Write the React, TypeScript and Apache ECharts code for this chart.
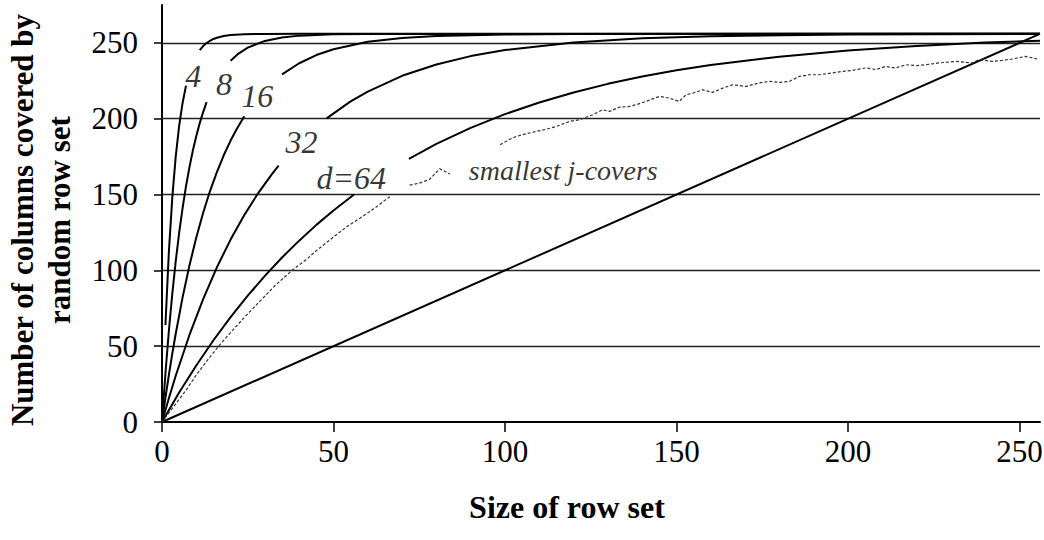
import React, { useEffect, useRef } from "react";
import * as echarts from "echarts";

// Axis ticks / grid
const xTickValues = [0, 50, 100, 150, 200, 250];
const yTickValues = [0, 50, 100, 150, 200, 250];
const gridValues = [50, 100, 150, 200, 250];

// d = 4 (null = gap where the label sits)
const d4X = [1, 2, 3, 4, 5, 6, 7, 9, 11, 12, 13, 14, 15, 16, 18, 20, 24, 30, 40, 256];
const d4Y = [64, 112, 148, 175, 195.3, 210.4, 221.8, null, 245.2, 247.9, 249.9, 251.4, 252.6, 253.4, 254.6, 255.2, 255.7, 255.9, 256, 256];

// d = 8
const d8X = [0, 1, 2, 3, 4, 5, 6, 7, 8, 9, 10, 11, 12, 13, 16, 20, 22, 25, 30, 35, 40, 50, 60, 256];
const d8Y = [0, 32, 60, 84.5, 105.9, 124.7, 141.1, 155.5, 168, 179, 188.6, 197.1, 204.4, 210.9, null, 238.3, 242.4, 246.9, 251.3, 253.6, 254.8, 255.7, 255.9, 256];

// d = 16
const d16X = [0, 1, 2, 3, 4, 6, 8, 10, 12, 14, 16, 18, 20, 22, 24, 30, 35, 40, 45, 50, 60, 70, 80, 100, 120, 256];
const d16Y = [0, 16, 31, 45.1, 58.2, 82.2, 103.2, 121.7, 138, 152.3, 164.8, 175.9, 185.6, 194.1, 201.6, null, 229.3, 236.6, 242, 245.8, 250.7, 253.2, 254.5, 255.6, 255.9, 256];

// d = 32
const d32X = [0, 2, 4, 8, 12, 16, 20, 24, 28, 32, 34, 40, 48, 55, 60, 70, 80, 90, 100, 120, 140, 160, 200, 256];
const d32Y = [0, 15.7, 30.5, 57.4, 81.1, 102, 120.3, 136.5, 150.8, 163.3, 169, null, 200.2, 211.4, 217.9, 228.3, 235.8, 241.3, 245.3, 250.3, 253, 254.4, 255.6, 255.9];

// d = 64
const d64X = [0, 5, 10, 15, 20, 25, 30, 35, 40, 45, 50, 56, 64, 72, 80, 90, 100, 110, 120, 130, 140, 150, 160, 180, 200, 220, 240, 256];
const d64Y = [0, 19.4, 37.3, 53.9, 69.2, 83.3, 96.4, 108.5, 119.6, 130, 139.5, 150, null, 173.6, 183.4, 194, 203, 210.7, 217.3, 223, 227.8, 231.9, 235.4, 240.9, 245, 248, 250.2, 251.5];

// diagonal
const diagX = [0, 256];
const diagY = [0, 256];

// smallest j-covers (measured, noisy)
const jcX = [0, 2, 4, 7, 10, 13, 16.5, 20, 24, 28.7, 33, 37.9, 42, 45, 50, 54, 57.7, 62, 66.4, 69, 72.2, 75, 78, 81, 83.9, 91, 98.6, 101, 103.3, 106, 109.1, 112, 115, 118.8, 121.7, 125.6, 128.5, 130.5, 133.4, 136, 138.2, 141.1, 145, 147.9, 150.8, 152.8, 155, 157.6, 160.5, 163.5, 166.4, 170.3, 174.1, 177.1, 180, 182.9, 185.8, 188.7, 191.6, 195.5, 198.4, 201.3, 205.2, 208.1, 211, 213.9, 216.9, 220, 222.7, 226.6, 231.4, 236.3, 238.2, 242.1, 245, 247.9, 251.8, 255.2];
const jcY = [0, 6, 12, 21, 31, 40, 50, 59, 69, 80, 90, 100, 107, 113, 122, 129, 134.4, 141, 148.6, null, 156.2, 157.5, 160, 167, 163.6, null, 182.8, 186, 188.3, 190, 191.6, 193, 194.9, 198.2, 199.3, 202.6, 205.9, 204.8, 207.7, 208, 209.2, 211.4, 214.7, 213.6, 211.4, 215.8, 217, 219.1, 217.4, 220.2, 222.4, 221.3, 223.6, 224.6, 224, 224.6, 227.9, 229, 229, 230.2, 231.2, 231.9, 233.5, 232.4, 234.5, 233.5, 235.6, 235, 235.6, 236.8, 237.8, 236.8, 239, 237.8, 238.5, 239.4, 241.1, 239.4];

// curve labels
const curveLabels = ["4", "8", "16", "32", "d=64"];
const curveLabelX = [9.1, 18.1, 27.8, 40.7, 55.2];
const curveLabelY = [228.5, 223, 214.7, 184.5, 160.8];
const noteLabel = "smallest j-covers";
const noteX = 117;
const noteY = 166;

const pairs = (xs: number[], ys: (number | null)[]) => xs.map((x, i) => [x, ys[i]]);

const SERIF = "'Liberation Serif', 'Times New Roman', serif";

export default function App() {
  const ref = useRef<HTMLDivElement>(null);
  useEffect(() => {
    const chart = echarts.init(ref.current!, null, { renderer: "svg" });
    const mkCurve = (name: string, xs: number[], ys: (number | null)[]) => ({
      type: "line",
      name,
      data: pairs(xs, ys),
      showSymbol: false,
      symbol: "none",
      smooth: false,
      connectNulls: false,
      lineStyle: { color: "#000", width: 2 },
      itemStyle: { color: "#000" },
      silent: true,
      z: 3,
    });
    const labelData: any[] = curveLabels.map((t, i) => ({
      value: [curveLabelX[i], curveLabelY[i]],
      name: t,
    }));
    labelData.push({
      value: [noteX, noteY],
      name: noteLabel,
      label: { fontSize: 28 },
    });
    chart.setOption({
      animation: false,
      backgroundColor: "#fff",
      textStyle: { fontFamily: SERIF, color: "#000" },
      grid: { left: 162, right: 4, top: 5, bottom: 118, containLabel: false, outerBoundsMode: "none" },
      xAxis: {
        type: "value",
        min: 0,
        max: 256,
        interval: 50,
        axisLine: { show: true, onZero: false, lineStyle: { color: "#000", width: 2 } },
        axisTick: { show: true, length: 10, customValues: xTickValues, lineStyle: { color: "#000", width: 1.5 } },
        axisLabel: { customValues: xTickValues, margin: 14, fontFamily: SERIF, fontSize: 31, color: "#000" },
        splitLine: { show: false },
      },
      yAxis: {
        type: "value",
        min: 0,
        max: 275,
        interval: 50,
        axisLine: { show: true, onZero: false, lineStyle: { color: "#000", width: 2 } },
        axisTick: { show: true, length: 8, customValues: yTickValues, lineStyle: { color: "#000", width: 1.5 } },
        axisLabel: { customValues: yTickValues, margin: 24, fontFamily: SERIF, fontSize: 31, color: "#000" },
        splitLine: { show: false },
      },
      graphic: [
        {
          type: "text",
          x: 41,
          y: 220,
          rotation: Math.PI / 2,
          style: {
            text: "Number of columns covered by\nrandom row set",
            fontFamily: SERIF,
            fontWeight: "bold",
            fontSize: 31,
            fill: "#000",
            textAlign: "center",
            textVerticalAlign: "middle",
            lineHeight: 37,
          },
        },
        {
          type: "text",
          x: 567,
          y: 507,
          style: {
            text: "Size of row set",
            fontFamily: SERIF,
            fontWeight: "bold",
            fontSize: 32,
            fill: "#000",
            textAlign: "center",
            textVerticalAlign: "middle",
          },
        },
      ],
      series: [
        {
          type: "line",
          name: "diagonal",
          data: pairs(diagX, diagY),
          showSymbol: false,
          symbol: "none",
          lineStyle: { color: "#000", width: 2 },
          silent: true,
          z: 3,
          markLine: {
            silent: true,
            symbol: "none",
            label: { show: false },
            lineStyle: { color: "#222", width: 1.4, type: "solid" },
            data: gridValues.map((v) => ({ yAxis: v })),
            z: 1,
          },
        },
        mkCurve("d4", d4X, d4Y),
        mkCurve("d8", d8X, d8Y),
        mkCurve("d16", d16X, d16Y),
        mkCurve("d32", d32X, d32Y),
        mkCurve("d64", d64X, d64Y),
        {
          type: "line",
          name: "smallest j-covers",
          data: pairs(jcX, jcY),
          showSymbol: false,
          symbol: "none",
          connectNulls: false,
          lineStyle: { color: "#333", width: 1.2, type: [3, 2] },
          silent: true,
          z: 3,
        },
        {
          type: "scatter",
          name: "labels",
          data: labelData,
          symbolSize: 1,
          itemStyle: { color: "transparent" },
          silent: true,
          z: 5,
          label: {
            show: true,
            position: "inside",
            formatter: "{b}",
            fontFamily: SERIF,
            fontStyle: "italic",
            fontSize: 32,
            color: "#000",
          },
        },
      ],
    });
    return () => chart.dispose();
  }, []);
  return (
    <div
      ref={ref}
      style={{ position: "absolute", left: 0, top: 0, width: 1044, height: 540 }}
    />
  );
}
